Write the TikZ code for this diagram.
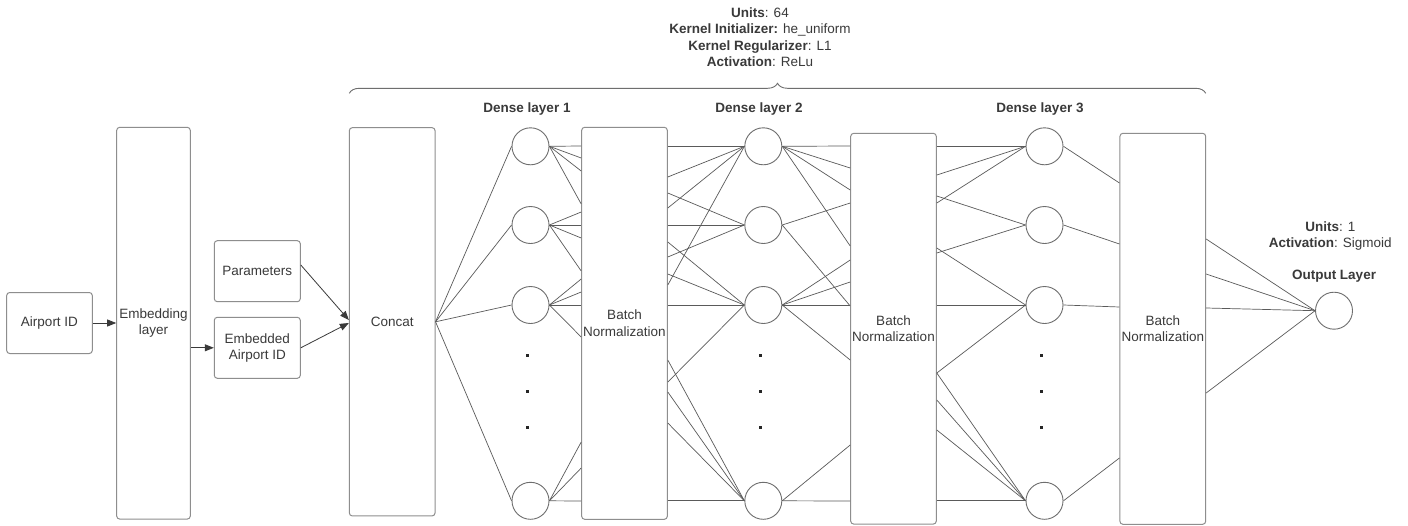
\documentclass[tikz,border=0pt]{standalone}
\usepackage{fontspec}
\setmainfont{Liberation Sans}
\usetikzlibrary{arrows.meta,decorations.pathreplacing}
\definecolor{txt}{HTML}{3A3A3A}
\definecolor{boxgray}{HTML}{8E8E8E}
\definecolor{linegray}{HTML}{5A5A5A}
\definecolor{circgray}{HTML}{6E6E6E}
\begin{document}
\begin{tikzpicture}[x=1pt,y=-1pt,
  every node/.style={text=txt, font=\fontsize{13.5}{16.3}\selectfont},
  blk/.style={draw=boxgray, line width=1pt, rounded corners=3pt, rectangle, inner sep=0pt, align=center},
  neuron/.style={draw=circgray, line width=0.9pt, circle, minimum size=37pt, inner sep=0pt},
  conn/.style={draw=linegray, line width=0.7pt},
  arr/.style={draw=linegray, line width=0.8pt, -{Triangle[length=9pt,width=7pt]}, color=txt},
  dotsq/.style={fill=black!85, rectangle, minimum size=3pt, inner sep=0pt},
  lbl/.style={font=\bfseries\fontsize{13.5}{16.3}\selectfont, align=center}]
\fill[white] (0,0) rectangle (1408,525);
\useasboundingbox (0,0) rectangle (1408,525);

% boxes
\node[blk, minimum width=85.6pt, minimum height=61pt] (air) at (49.5,323) {Airport ID};
\node[blk, minimum width=73.6pt, minimum height=391.7pt] (emb) at (153.5,323.2) {Embedding\\layer};
\node[blk, minimum width=86pt, minimum height=61pt] (par) at (257.3,271.2) {Parameters};
\node[blk, minimum width=86pt, minimum height=61pt] (eair) at (257.3,347.8) {Embedded\\Airport ID};
\node[blk, minimum width=85.7pt, minimum height=388.3pt] (concat) at (392.2,321.8) {Concat};
\node[blk, minimum width=85.6pt, minimum height=392pt] (bn1) at (624.5,323.3) {Batch\\Normalization};
\node[blk, minimum width=85.6pt, minimum height=390.7pt] (bn2) at (893.5,328.7) {Batch\\Normalization};
\node[blk, minimum width=85.7pt, minimum height=391pt] (bn3) at (1162.8,328.8) {Batch\\Normalization};

% neurons
\foreach \c/\x in {1/530.5,2/763.3,3/1044.5}{
  \node[neuron] (d\c a) at (\x,146.3) {};
  \node[neuron] (d\c b) at (\x,225) {};
  \node[neuron] (d\c c) at (\x,305) {};
  \node[neuron] (d\c d) at (\x,500.8) {};
}
\node[neuron] (out) at (1334,310.7) {};

% dots
\foreach \c/\x in {1/527.3,2/760,3/1041}{
  \node[dotsq] (dots\c a) at (\x,355) {};
  \node[dotsq] (dots\c b) at (\x,391.7) {};
  \node[dotsq] (dots\c c) at (\x,427.7) {};
}

% labels
\node[lbl] (l1) at (527,109.3) {Dense layer 1};
\node[lbl] (l2) at (759,109.3) {Dense layer 2};
\node[lbl] (l3) at (1040,109.3) {Dense layer 3};
\node[align=center] (params) at (760,37.3) {\textbf{Units}: 64\\\textbf{Kernel Initializer:} he\_uniform\\\textbf{Kernel Regularizer}: L1\\\textbf{Activation}: ReLu};
\node[align=center] (oparams) at (1330.3,235.7) {\textbf{Units}: 1\\\textbf{Activation}: Sigmoid};
\node[lbl] (ol) at (1334,275.7) {Output Layer};

% brace
\coordinate (bl) at (349.3,93.3);
\coordinate (br) at (1205.7,93.3);
\draw[draw=circgray, line width=0.9pt, decorate, decoration={brace, amplitude=10pt}] (bl) -- (br);

% arrows
\draw[arr] (air.east) -- (air.east -| emb.west);
\draw[arr] (emb.east |- eair.west) -- (eair.west);
\draw[arr] (par.east |- 0,265) -- (concat.west |- 0,320);
\draw[arr] (eair.east) -- (concat.west |- 0,323);

% concat -> dense 1
\foreach \n in {a,b,c,d} \draw[conn] (concat.east) -- (d1\n.west);

% dense 1 -> bn1
\foreach \y in {146,158,171,204} \draw[conn] (d1a.east) -- (bn1.west |- 0,\y);
\foreach \y in {212,225,238,271} \draw[conn] (d1b.east) -- (bn1.west |- 0,\y);
\foreach \y in {279,292,305,337} \draw[conn] (d1c.east) -- (bn1.west |- 0,\y);
\foreach \y in {442,468,501} \draw[conn] (d1d.east) -- (bn1.west |- 0,\y);

% bn1 -> dense 2
\foreach \y in {146.3,177,208,285} \draw[conn] (bn1.east |- 0,\y) -- (d2a.west);
\foreach \y in {193,225,257} \draw[conn] (bn1.east |- 0,\y) -- (d2b.west);
\foreach \y in {242,274,305,382} \draw[conn] (bn1.east |- 0,\y) -- (d2c.west);
\foreach \y in {360,392,423,500.8} \draw[conn] (bn1.east |- 0,\y) -- (d2d.west);

% dense 2 -> bn2
\foreach \y in {146,168,190,246} \draw[conn] (d2a.east) -- (bn2.west |- 0,\y);
\foreach \y in {203,306} \draw[conn] (d2b.east) -- (bn2.west |- 0,\y);
\foreach \y in {260,282,305,360} \draw[conn] (d2c.east) -- (bn2.west |- 0,\y);
\foreach \y in {445,501} \draw[conn] (d2d.east) -- (bn2.west |- 0,\y);

% bn2 -> dense 3
\foreach \y in {146.3,175,203} \draw[conn] (bn2.east |- 0,\y) -- (d3a.west);
\foreach \y in {196,253} \draw[conn] (bn2.east |- 0,\y) -- (d3b.west);
\foreach \y in {248,305,373} \draw[conn] (bn2.east |- 0,\y) -- (d3c.west);
\foreach \y in {373,400,430,500.8} \draw[conn] (bn2.east |- 0,\y) -- (d3d.west);

% dense 3 -> bn3
\draw[conn] (d3a.east) -- (bn3.west |- 0,183);
\draw[conn] (d3b.east) -- (bn3.west |- 0,244);
\draw[conn] (d3c.east) -- (bn3.west |- 0,307);
\draw[conn] (d3d.east) -- (bn3.west |- 0,458);

% bn3 -> output
\foreach \y in {239,274,308,393} \draw[conn] (bn3.east |- 0,\y) -- (out.west);
\end{tikzpicture}
\end{document}
